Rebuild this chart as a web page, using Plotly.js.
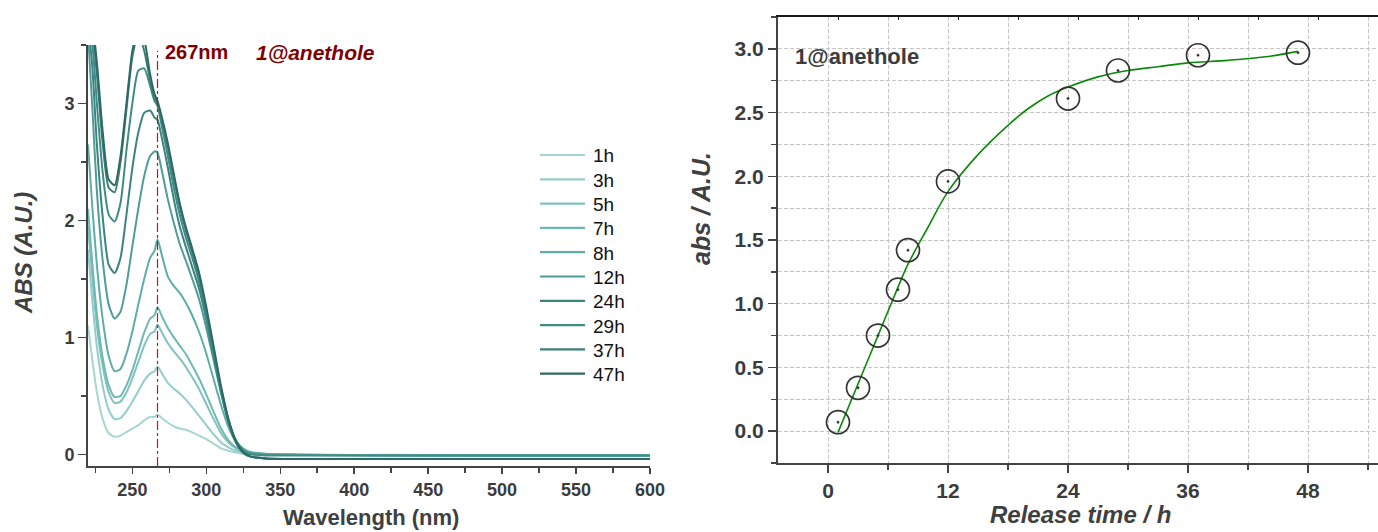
<!DOCTYPE html>
<html>
<head>
<meta charset="utf-8">
<script src="https://cdn.plot.ly/plotly-3.0.1.min.js"></script>
<style>
  html, body { margin: 0; padding: 0; background: #ffffff; }
  #chart { width: 1378px; height: 532px; }
</style>
</head>
<body>
<div id="chart"></div>
<script>
// ---- UV-Vis spectra of 1@anethole release (wavelength in nm, absorbance) ----
const wavelength = [220, 223, 226, 230, 234, 238, 242, 246, 250, 254, 258, 262, 265, 267, 270, 274, 278, 282, 286, 290, 295, 300, 305, 310, 315, 320, 325, 330, 340, 360, 400, 450, 500, 550, 600];

const abs1h  = [1.10, 0.80, 0.53, 0.30, 0.18, 0.15, 0.16, 0.19, 0.22, 0.25, 0.29, 0.32, 0.32, 0.34, 0.31, 0.27, 0.24, 0.22, 0.21, 0.19, 0.16, 0.13, 0.09, 0.05, 0.03, 0.015, 0.005, 0.0, -0.005, -0.005, -0.005, -0.005, -0.01, -0.01, -0.01];
const abs3h  = [1.75, 1.30, 0.92, 0.58, 0.38, 0.30, 0.31, 0.37, 0.45, 0.54, 0.63, 0.69, 0.71, 0.75, 0.69, 0.61, 0.56, 0.52, 0.47, 0.41, 0.33, 0.25, 0.17, 0.10, 0.06, 0.03, 0.015, 0.005, 0.0, -0.005, -0.005, -0.01, -0.01, -0.01, -0.01];
const abs5h  = [1.95, 1.50, 1.10, 0.75, 0.53, 0.44, 0.45, 0.53, 0.65, 0.79, 0.93, 1.03, 1.05, 1.11, 1.04, 0.95, 0.88, 0.82, 0.75, 0.67, 0.56, 0.43, 0.30, 0.18, 0.10, 0.05, 0.02, 0.01, 0.0, -0.005, -0.005, -0.01, -0.01, -0.01, -0.01];
const abs7h  = [2.10, 1.62, 1.20, 0.82, 0.59, 0.49, 0.50, 0.59, 0.72, 0.88, 1.04, 1.16, 1.19, 1.26, 1.18, 1.08, 1.00, 0.93, 0.86, 0.77, 0.65, 0.51, 0.36, 0.22, 0.12, 0.06, 0.03, 0.01, 0.0, -0.005, -0.005, -0.01, -0.01, -0.01, -0.01];
const abs8h  = [2.65, 2.10, 1.62, 1.15, 0.84, 0.71, 0.73, 0.86, 1.05, 1.28, 1.50, 1.68, 1.74, 1.84, 1.70, 1.52, 1.44, 1.38, 1.30, 1.20, 1.05, 0.86, 0.64, 0.42, 0.23, 0.11, 0.05, 0.02, 0.005, 0.0, -0.005, -0.01, -0.01, -0.01, -0.01];
const abs12h = [3.60, 2.95, 2.25, 1.65, 1.28, 1.16, 1.22, 1.45, 1.78, 2.10, 2.38, 2.55, 2.59, 2.58, 2.42, 2.18, 1.98, 1.80, 1.66, 1.52, 1.33, 1.08, 0.80, 0.52, 0.28, 0.12, 0.04, 0.01, 0.0, -0.005, -0.01, -0.01, -0.01, -0.01, -0.01];
const abs24h = [3.70, 3.30, 2.65, 2.02, 1.62, 1.55, 1.68, 2.05, 2.45, 2.75, 2.92, 2.94, 2.88, 2.86, 2.70, 2.45, 2.18, 1.95, 1.78, 1.62, 1.42, 1.15, 0.84, 0.53, 0.27, 0.10, 0.01, -0.02, -0.035, -0.04, -0.04, -0.04, -0.04, -0.04, -0.04];
const abs29h = [3.70, 3.50, 3.00, 2.40, 2.05, 1.99, 2.15, 2.60, 3.00, 3.28, 3.30, 3.15, 3.02, 2.98, 2.80, 2.55, 2.28, 2.05, 1.86, 1.70, 1.48, 1.18, 0.86, 0.55, 0.29, 0.12, 0.03, 0.0, -0.01, -0.01, -0.01, -0.01, -0.01, -0.01, -0.01];
const abs37h = [3.70, 3.60, 3.25, 2.65, 2.28, 2.24, 2.50, 2.95, 3.40, 3.60, 3.45, 3.20, 3.05, 3.00, 2.85, 2.62, 2.36, 2.12, 1.92, 1.75, 1.52, 1.22, 0.88, 0.56, 0.29, 0.11, 0.02, -0.02, -0.035, -0.04, -0.04, -0.04, -0.04, -0.04, -0.04];
const abs47h = [3.70, 3.65, 3.35, 2.75, 2.35, 2.30, 2.55, 3.00, 3.45, 3.65, 3.55, 3.25, 3.08, 3.02, 2.88, 2.66, 2.40, 2.15, 1.95, 1.78, 1.56, 1.26, 0.92, 0.58, 0.30, 0.11, 0.02, -0.02, -0.035, -0.04, -0.04, -0.04, -0.04, -0.04, -0.04];

const spectraLabels = ['1h', '3h', '5h', '7h', '8h', '12h', '24h', '29h', '37h', '47h'];
const spectraValues = [abs1h, abs3h, abs5h, abs7h, abs8h, abs12h, abs24h, abs29h, abs37h, abs47h];
const spectraColors = ['#a6d6d3', '#94cdca', '#7fc2bf', '#6fb9b5', '#5fada9', '#4f9d99', '#3b847f', '#418b86', '#3b7e79', '#2e6a65'];

const peakWavelength = 267;

// ---- release kinetics: absorbance at 267 nm vs time ----
const releaseTime = [1, 3, 5, 7, 8, 12, 24, 29, 37, 47];
const releaseAbs  = [0.07, 0.34, 0.75, 1.11, 1.42, 1.96, 2.61, 2.83, 2.95, 2.97];

const fitTime = [1, 3, 5, 7, 8, 10, 12, 15, 18, 20, 22, 24, 27, 30, 33, 36, 40, 44, 47];
const fitAbs  = [-0.01, 0.37, 0.75, 1.13, 1.31, 1.60, 1.88, 2.17, 2.40, 2.53, 2.63, 2.70, 2.78, 2.83, 2.86, 2.89, 2.91, 2.94, 2.98];

const timeTicks = [0, 12, 24, 36, 48];

// ---- page geometry helpers ----
const W = 1378, H = 532;
const px = v => v / W;
const py = v => 1 - v / H;

const FONT = 'Liberation Sans, Arial, Helvetica, sans-serif';
const AXIS_GRAY = '#444444';
const GRID = { color: '#c6c6c6', dash: '4px,2px' };
const TICK_FONT_L = { family: FONT, size: 18, color: '#3c3c3c', weight: 'bold' };
const TICK_FONT_R = { family: FONT, size: 21, color: '#3c3c3c', weight: 'bold' };

const traces = [];

spectraValues.forEach((vals, i) => {
  traces.push({
    type: 'scatter', mode: 'lines',
    x: wavelength, y: vals,
    name: spectraLabels[i],
    line: { color: spectraColors[i], width: 2, shape: 'spline', smoothing: 0.6 },
    xaxis: 'x', yaxis: 'y',
    showlegend: false, hoverinfo: 'skip'
  });
});

traces.push({
  type: 'scatter', mode: 'lines',
  x: fitTime, y: fitAbs,
  line: { color: '#0a8a0a', width: 1.6, shape: 'spline', smoothing: 1 },
  xaxis: 'x2', yaxis: 'y2', showlegend: false, hoverinfo: 'skip'
});

traces.push({
  type: 'scatter', mode: 'markers',
  x: releaseTime, y: releaseAbs,
  marker: { symbol: 'circle-open-dot', size: 23, color: '#333333', line: { width: 1.7, color: '#333333' } },
  xaxis: 'x2', yaxis: 'y2', showlegend: false, hoverinfo: 'skip'
});

// empty trace that carries the top frame axis of the kinetics panel
traces.push({ type: 'scatter', x: [], y: [], xaxis: 'x3', yaxis: 'y2', showlegend: false });

// legend for the spectra, one row per release time
const legendTop = 155, legendStep = 24.3;
const legendShapes = spectraLabels.map((lab, i) => ({
  type: 'line', xref: 'paper', yref: 'paper',
  x0: px(540), x1: px(585), y0: py(legendTop + i * legendStep), y1: py(legendTop + i * legendStep),
  line: { color: spectraColors[i], width: 2.2 }
}));
const legendTexts = spectraLabels.map((lab, i) => ({
  text: lab, xref: 'paper', yref: 'paper',
  x: px(591), y: py(legendTop + i * legendStep + 1),
  xanchor: 'left', yanchor: 'middle', showarrow: false,
  font: { family: FONT, size: 19, color: '#111111' }
}));

const layout = {
  width: W, height: H,
  margin: { l: 0, r: 0, t: 0, b: 0 },
  paper_bgcolor: '#ffffff', plot_bgcolor: 'rgba(0,0,0,0)',
  font: { family: FONT, color: '#404040' },
  showlegend: false,
  xaxis: {
    domain: [px(88), px(650)], range: [220, 600], anchor: 'y',
    tick0: 0, dtick: 50, ticks: 'outside', ticklen: 6, tickwidth: 1.5, tickcolor: AXIS_GRAY,
    minor: { dtick: 25, tick0: 0, ticks: 'outside', ticklen: 5, tickwidth: 1.5, tickcolor: AXIS_GRAY },
    showline: true, linecolor: AXIS_GRAY, linewidth: 2,
    showgrid: false, zeroline: false, tickfont: TICK_FONT_L
  },
  yaxis: {
    domain: [py(466), py(45)], range: [-0.1, 3.5], anchor: 'x',
    tick0: 0, dtick: 1, ticks: 'outside', ticklen: 8, tickwidth: 1.5, tickcolor: AXIS_GRAY,
    minor: { dtick: 0.5, tick0: 0, ticks: 'outside', ticklen: 5, tickwidth: 1.5, tickcolor: AXIS_GRAY },
    showline: true, linecolor: AXIS_GRAY, linewidth: 2,
    showgrid: false, zeroline: false, tickfont: TICK_FONT_L
  },
  xaxis2: {
    domain: [px(778), 1], range: [-5, 55], anchor: 'y2',
    tickmode: 'array', tickvals: timeTicks, ticks: 'outside', ticklen: 8, tickwidth: 1.5, tickcolor: AXIS_GRAY,
    minor: { dtick: 6, tick0: 0, ticks: 'outside', ticklen: 5, tickwidth: 1.5, tickcolor: AXIS_GRAY,
             showgrid: true, gridcolor: GRID.color, gridwidth: 1, griddash: GRID.dash },
    showgrid: true, gridcolor: GRID.color, gridwidth: 1, griddash: GRID.dash,
    showline: true, linecolor: AXIS_GRAY, linewidth: 2,
    zeroline: false, tickfont: TICK_FONT_R
  },
  xaxis3: {
    overlaying: 'x2', anchor: 'y2', side: 'top', range: [-5, 55],
    tick0: 1, dtick: 6, ticks: 'inside', ticklen: 3, tickwidth: 1, tickcolor: '#222222',
    showticklabels: false, showline: true, linecolor: '#1a1a1a', linewidth: 2.5,
    showgrid: false, zeroline: false
  },
  yaxis2: {
    domain: [py(463), py(17)], range: [-0.25, 3.25], anchor: 'x2',
    tick0: 0, dtick: 0.5, tickformat: '.1f', ticks: 'outside', ticklen: 8, tickwidth: 1.5, tickcolor: AXIS_GRAY,
    minor: { dtick: 0.25, tick0: 0, ticks: 'outside', ticklen: 5, tickwidth: 1.5, tickcolor: AXIS_GRAY,
             showgrid: true, gridcolor: GRID.color, gridwidth: 1, griddash: GRID.dash },
    showgrid: true, gridcolor: GRID.color, gridwidth: 1, griddash: GRID.dash,
    showline: true, linecolor: AXIS_GRAY, linewidth: 2,
    zeroline: false, tickfont: TICK_FONT_R
  },
  shapes: [{
    type: 'line', xref: 'x', yref: 'y',
    x0: peakWavelength, x1: peakWavelength, y0: -0.1, y1: 3.45,
    line: { color: '#b01e1e', width: 1.2, dash: 'dashdot' }
  }].concat(legendShapes),
  annotations: [
    { text: peakWavelength + 'nm', xref: 'paper', yref: 'paper', x: px(197), y: py(52),
      xanchor: 'center', yanchor: 'middle', showarrow: false,
      font: { family: FONT, size: 20, color: '#7f0000', weight: 'bold' } },
    { text: '1@anethole', xref: 'paper', yref: 'paper', x: px(315), y: py(52),
      xanchor: 'center', yanchor: 'middle', showarrow: false,
      font: { family: FONT, size: 21, color: '#7f0000', weight: 'bold', style: 'italic' } },
    { text: 'ABS (A.U.)', xref: 'paper', yref: 'paper', x: px(23), y: py(253),
      xanchor: 'center', yanchor: 'middle', textangle: -90, showarrow: false,
      font: { family: FONT, size: 24, color: '#404040', weight: 'bold', style: 'italic' } },
    { text: 'Wavelength (nm)', xref: 'paper', yref: 'paper', x: px(371), y: py(517),
      xanchor: 'center', yanchor: 'middle', showarrow: false,
      font: { family: FONT, size: 22, color: '#404040', weight: 'bold' } },
    { text: '1@anethole', xref: 'paper', yref: 'paper', x: px(857), y: py(57),
      xanchor: 'center', yanchor: 'middle', showarrow: false,
      font: { family: FONT, size: 22, color: '#3c3c3c', weight: 'bold' } },
    { text: 'abs / A.U.', xref: 'paper', yref: 'paper', x: px(701), y: py(209),
      xanchor: 'center', yanchor: 'middle', textangle: -90, showarrow: false,
      font: { family: FONT, size: 25, color: '#404040', weight: 'bold', style: 'italic' } },
    { text: 'Release time / h', xref: 'paper', yref: 'paper', x: px(1080), y: py(514),
      xanchor: 'center', yanchor: 'middle', showarrow: false,
      font: { family: FONT, size: 24, color: '#404040', weight: 'bold', style: 'italic' } }
  ].concat(legendTexts)
};

Plotly.newPlot('chart', traces, layout, { staticPlot: true, displayModeBar: false });
</script>
</body>
</html>
